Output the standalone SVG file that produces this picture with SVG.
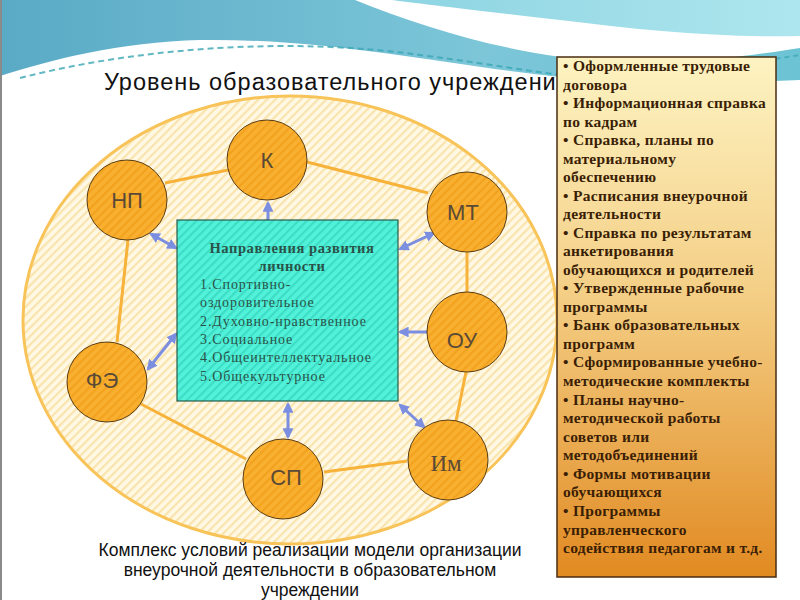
<svg xmlns="http://www.w3.org/2000/svg" width="800" height="600" viewBox="0 0 800 600">
<style>
.node circle{fill:url(#hatchO);stroke:#5a3c12;stroke-width:1}
.node text{font-family:"Liberation Sans",Arial,sans-serif;font-size:22px;fill:#5a4a36;text-anchor:middle}
.link{stroke:#F7B23A;stroke-width:3;fill:none}
.arr{stroke:#7B8EE0;stroke-width:3;fill:none;marker-start:url(#ah);marker-end:url(#ah)}
.panel{font-family:"Liberation Serif","Times New Roman",serif;font-size:15.5px;font-weight:bold;fill:#3a1e05;letter-spacing:0.3px}
.list{font-family:"Liberation Serif","Times New Roman",serif;font-size:14px;fill:#2a5248;letter-spacing:0.9px}
.cap{font-family:"Liberation Sans",Arial,sans-serif;font-size:17.5px;fill:#111;text-anchor:middle}
</style>
<defs>
<linearGradient id="gBlue" x1="0" y1="0" x2="1" y2="0"><stop offset="0" stop-color="#5aaac6"/><stop offset="0.6" stop-color="#7cc6d8"/><stop offset="1" stop-color="#6cc3d4"/></linearGradient>
<linearGradient id="gCyan" x1="0" y1="0" x2="1" y2="0"><stop offset="0" stop-color="#8dd4e2"/><stop offset="1" stop-color="#aee6ee"/></linearGradient>
<linearGradient id="gPanel" x1="0" y1="0" x2="0" y2="1"><stop offset="0" stop-color="#FDF3C2"/><stop offset="0.45" stop-color="#F4CF86"/><stop offset="1" stop-color="#E18A22"/></linearGradient>
<pattern id="hatchY" width="6" height="6" patternUnits="userSpaceOnUse" patternTransform="rotate(45)"><rect width="6" height="6" fill="#FFF8E4"/><rect width="2.2" height="6" fill="#F9E4AE"/></pattern>
<pattern id="hatchO" width="6" height="6" patternUnits="userSpaceOnUse" patternTransform="rotate(45)"><rect width="6" height="6" fill="#F9B030"/><rect width="2.2" height="6" fill="#F2A21E"/></pattern>
<pattern id="hatchT" width="6" height="6" patternUnits="userSpaceOnUse" patternTransform="rotate(45)"><rect width="6" height="6" fill="#52F2DA"/><rect width="2.2" height="6" fill="#3DDCC4"/></pattern>
<marker id="ah" viewBox="0 0 10 10" refX="8" refY="5" markerWidth="3.6" markerHeight="3.6" orient="auto-start-reverse"><path d="M0,0 L10,5 L0,10 Z" fill="#7B8EE0"/></marker>
<clipPath id="titleClip"><rect x="0" y="60" width="557" height="40"/></clipPath>
</defs>
<rect width="800" height="600" fill="#ffffff"/>
<g id="background">
<path d="M0,0 H355 C430,30 520,58 620,62 C700,64 760,54 800,48 V80 C700,84 600,80 560,77 C450,66 330,38 200,40 C120,42 50,60 0,76 Z" fill="url(#gBlue)"/>
<path d="M392,0 H800 V36 C720,38 640,30 560,20 C490,12 430,5 392,0 Z" fill="url(#gCyan)"/>
<path d="M20,78 C150,45 300,38 420,55 C500,65 560,78 640,82" stroke="#3aa6b4" stroke-width="2" stroke-dasharray="6 4" fill="none" opacity="0.8"/>
<path d="M560,70 C650,74 730,66 800,55" stroke="#3aa6b4" stroke-width="2" stroke-dasharray="5 4" fill="none" opacity="0.7"/>
<line x1="1" y1="0" x2="1" y2="600" stroke="#8a8a8a" stroke-width="2"/>
</g>
<text x="104" y="90" clip-path="url(#titleClip)" font-family="&quot;Liberation Sans&quot;,Arial,sans-serif" font-size="23.5" letter-spacing="1" fill="#111">Уровень образовательного учреждения</text>
<ellipse id="outer" cx="290" cy="320" rx="267" ry="224" fill="url(#hatchY)" stroke="#F8C45A" stroke-width="3"/>
<g id="connectors">
<line class="link" x1="165" y1="183" x2="228" y2="170"/>
<line class="link" x1="307" y1="162" x2="428" y2="193"/>
<line class="link" x1="467" y1="252" x2="467" y2="292"/>
<line class="link" x1="466" y1="372" x2="456" y2="421"/>
<line class="link" x1="407" y1="461" x2="324" y2="472"/>
<line class="link" x1="246" y1="459" x2="141" y2="404"/>
<line class="link" x1="128" y1="240" x2="117" y2="342"/>
<line class="arr" x1="268" y1="203" x2="268" y2="229"/>
<line class="arr" x1="151" y1="234" x2="176" y2="248"/>
<line class="arr" x1="400" y1="249" x2="434" y2="233"/>
<line class="arr" x1="400" y1="332" x2="436" y2="332"/>
<line class="arr" x1="148" y1="369" x2="176" y2="334"/>
<line class="arr" x1="288" y1="404" x2="288" y2="437"/>
<line class="arr" x1="400" y1="405" x2="424" y2="427"/>
</g>
<g id="center">
<rect x="177" y="220" width="221" height="181" fill="url(#hatchT)" stroke="#2b5a4c" stroke-width="1.2"/>
<text x="292" y="253" text-anchor="middle" font-family="&quot;Liberation Serif&quot;,serif" font-size="14.5" font-weight="bold" fill="#2a5248" letter-spacing="0.6">Направления развития</text>
<text x="292" y="271" text-anchor="middle" font-family="&quot;Liberation Serif&quot;,serif" font-size="14.5" font-weight="bold" fill="#2a5248" letter-spacing="0.6">личности</text>
<text class="list" x="200" y="289">1.Спортивно-</text>
<text class="list" x="200" y="307">оздоровительное</text>
<text class="list" x="200" y="326">2.Духовно-нравственное</text>
<text class="list" x="200" y="344">3.Социальное</text>
<text class="list" x="200" y="362">4.Общеинтеллектуальное</text>
<text class="list" x="200" y="381">5.Общекультурное</text>
</g>
<g id="node-k" class="node"><circle cx="267" cy="160" r="40"/><text x="267" y="168">К</text></g>
<g id="node-np" class="node"><circle cx="127" cy="200" r="40"/><text x="127" y="208">НП</text></g>
<g id="node-mt" class="node"><circle cx="467" cy="212" r="40"/><text x="463" y="220">МТ</text></g>
<g id="node-ou" class="node"><circle cx="467" cy="332" r="40"/><text x="462" y="348">ОУ</text></g>
<g id="node-im" class="node"><circle cx="448" cy="460" r="40"/><text x="446" y="471" style="font-family:'Liberation Serif',serif;font-size:23px">Им</text></g>
<g id="node-sp" class="node"><circle cx="283" cy="479" r="40"/><text x="286" y="485">СП</text></g>
<g id="node-fe" class="node"><circle cx="107" cy="382" r="40"/><text x="102" y="388">ФЭ</text></g>
<g id="panel">
<rect x="557" y="57" width="219" height="520" fill="url(#gPanel)" stroke="#4a2c10" stroke-width="1.5"/>
<text class="panel" x="563" y="71">• Оформленные трудовые</text>
<text class="panel" x="563" y="90">договора</text>
<text class="panel" x="563" y="108">• Информационная справка</text>
<text class="panel" x="563" y="127">по кадрам</text>
<text class="panel" x="563" y="145">• Справка, планы по</text>
<text class="panel" x="563" y="164">материальному</text>
<text class="panel" x="563" y="182">обеспечению</text>
<text class="panel" x="563" y="201">• Расписания внеурочной</text>
<text class="panel" x="563" y="219">деятельности</text>
<text class="panel" x="563" y="238">• Справка по результатам</text>
<text class="panel" x="563" y="256">анкетирования</text>
<text class="panel" x="563" y="275">обучающихся и родителей</text>
<text class="panel" x="563" y="293">• Утвержденные рабочие</text>
<text class="panel" x="563" y="312">программы</text>
<text class="panel" x="563" y="330">• Банк образовательных</text>
<text class="panel" x="563" y="349">программ</text>
<text class="panel" x="563" y="367">• Сформированные учебно-</text>
<text class="panel" x="563" y="386">методические комплекты</text>
<text class="panel" x="563" y="405">• Планы научно-</text>
<text class="panel" x="563" y="423">методической работы</text>
<text class="panel" x="563" y="442">советов или</text>
<text class="panel" x="563" y="460">методобъединений</text>
<text class="panel" x="563" y="479">• Формы мотивации</text>
<text class="panel" x="563" y="497">обучающихся</text>
<text class="panel" x="563" y="516">• Программы</text>
<text class="panel" x="563" y="535">управленческого</text>
<text class="panel" x="563" y="553">содействия педагогам и т.д.</text>
</g>
<g id="caption">
<text class="cap" x="310" y="556">Комплекс условий реализации модели организации</text>
<text class="cap" x="310" y="576">внеурочной деятельности в образовательном</text>
<text class="cap" x="310" y="596">учреждении</text>
</g>
</svg>
